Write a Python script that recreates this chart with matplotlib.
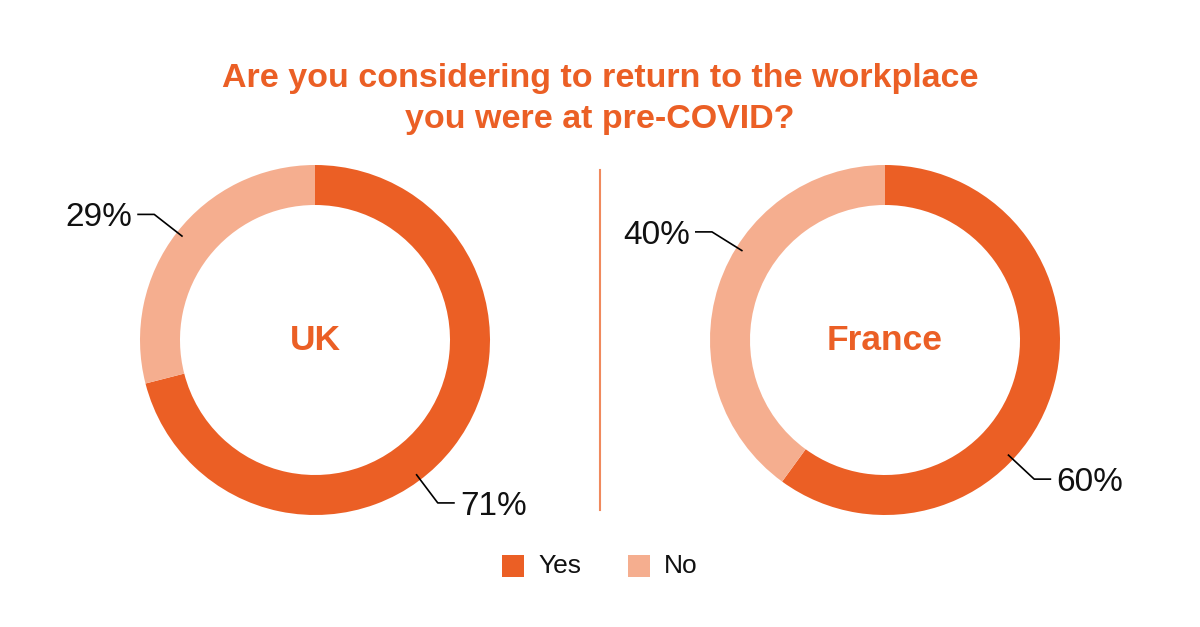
import matplotlib.pyplot as plt
import numpy as np

plt.rcParams['font.family'] = ['Liberation Sans', 'DejaVu Sans']

countries = ['UK', 'France']
yes_pct = [71, 60]
no_pct = [29, 40]
legend_labels = ['Yes', 'No']
title = 'Are you considering to return to the workplace\nyou were at pre-COVID?'

orange = '#EB5F25'
light = '#F5AE8F'

fig = plt.figure(figsize=(12, 6.27), dpi=100)
ax = fig.add_axes([0, 0, 1, 1])

centers = [(315, 287), (885, 287)]
# angles (deg) where the leader lines touch the ring: (yes, no)
label_angles = [(-53, 142), (-43, 148)]

for name, y, n, (cx, cy), (ay, an) in zip(countries, yes_pct, no_pct, centers, label_angles):
    ax.pie([y, n], colors=[orange, light], startangle=90, counterclock=False,
           radius=175, center=(cx, cy), frame=True,
           wedgeprops=dict(width=40, linewidth=0))
    ax.text(cx, cy - 10, name, ha='center', va='baseline', fontsize=25.5,
            fontweight='bold', color=orange)
    for val, ang in ((y, ay), (n, an)):
        a = np.deg2rad(ang)
        x0, y0 = cx + 168 * np.cos(a), cy + 168 * np.sin(a)
        x1, y1 = cx + 204 * np.cos(a), cy + 204 * np.sin(a)
        side = 1 if np.cos(a) > 0 else -1
        x2 = x1 + side * 17
        ax.plot([x0, x1, x2], [y0, y1, y1], color='black', lw=1.2,
                solid_capstyle='butt')
        ax.text(x2 + side * 5, y1 - 12, f'{val}%', fontsize=24,
                ha='left' if side > 0 else 'right', va='baseline', color='#111111')

ax.set_xlim(0, 1200)
ax.set_ylim(0, 627)
ax.set_aspect('equal')
ax.axis('off')

# divider
ax.plot([600, 600], [627 - 170, 627 - 510], color='#F08A5D', lw=1.5)

ax.text(600, 627 - 99, title, ha='center', va='center', fontsize=24.5,
        fontweight='bold', color=orange, linespacing=1.4)

# legend
for lab, col, x in zip(legend_labels, [orange, light], [502, 628]):
    ax.add_patch(plt.Rectangle((x, 627 - 577), 22, 22, color=col, lw=0))
    ax.text(x + 36, 627 - 566, lab, fontsize=19, va='center', ha='left',
            color='#111111')

fig.savefig('out.png', dpi=100)
